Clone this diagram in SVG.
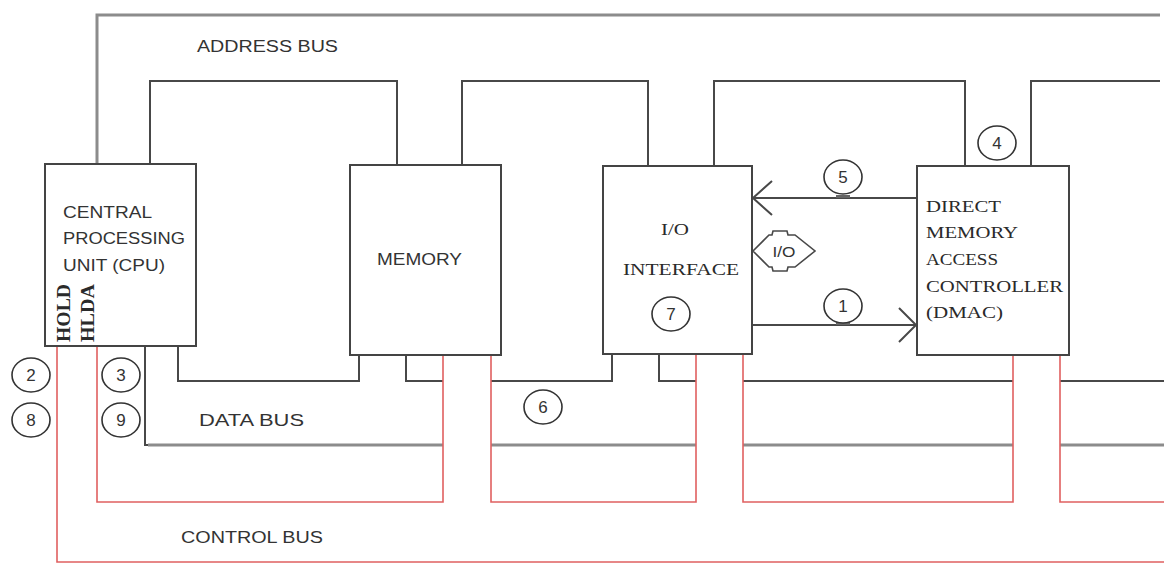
<svg xmlns="http://www.w3.org/2000/svg" width="1164" height="565" viewBox="0 0 1164 565">
<style>
.bg{fill:#ffffff}
.box{fill:#ffffff;stroke:#444;stroke-width:2}
.w{fill:none;stroke:#484848;stroke-width:2}
.g{fill:none;stroke:#8c8c8c;stroke-width:3}
.r{fill:none;stroke:#e06060;stroke-width:1.6}
.circ{fill:#ffffff;stroke:#333;stroke-width:1.6}
.sans{font-family:"Liberation Sans",Arial,sans-serif;fill:#333;font-size:16px}
.serif{font-family:"Liberation Serif","Times New Roman",serif;fill:#2a2a2a;font-size:17px}
.num{font-family:"Liberation Sans",Arial,sans-serif;fill:#333;font-size:17px;text-anchor:middle}
.tick{fill:#666}
</style>
<rect class="bg" x="0" y="0" width="1164" height="565"/>
<g id="connectors">
  <polyline class="g" points="97,163 97,15 1160,15"/>
  <polyline class="w" points="150,163 150,81 397,81 397,165"/>
  <polyline class="w" points="462,165 462,81 648,81 648,166"/>
  <polyline class="w" points="714,166 714,81 965,81 965,166"/>
  <polyline class="w" points="1031,166 1031,81 1160,81"/>
  <polyline class="w" points="178,346 178,381 359,381 359,355"/>
  <polyline class="w" points="406,355 406,381 443,381"/>
  <polyline class="w" points="491,381 612,381 612,354"/>
  <polyline class="w" points="659,354 659,381 696,381"/>
  <line class="w" x1="743" y1="381" x2="1013" y2="381"/>
  <line class="w" x1="1060" y1="381" x2="1164" y2="381"/>
  <polyline class="w" points="145,346 145,445 443,445"/>
  <line class="g" x1="148" y1="445" x2="443" y2="445"/>
  <line class="g" x1="491" y1="445" x2="696" y2="445"/>
  <line class="g" x1="743" y1="445" x2="1013" y2="445"/>
  <line class="g" x1="1060" y1="445" x2="1164" y2="445"/>
  <polyline class="r" points="57,346 57,562 1164,562"/>
  <polyline class="r" points="97,346 97,502 443,502 443,355"/>
  <polyline class="r" points="491,355 491,502 696,502 696,354"/>
  <polyline class="r" points="743,354 743,502 1013,502 1013,355"/>
  <polyline class="r" points="1060,355 1060,502 1164,502"/>
  <line class="w" x1="917" y1="198" x2="753" y2="198"/>
  <polyline class="w" points="772,181 753,198 772,215"/>
  <line class="w" x1="752" y1="325" x2="916" y2="325"/>
  <polyline class="w" points="899,308 916,325 899,342"/>
  <path class="w" d="M753,251 L769,235 L772,235 L773,231 L787,231 L788,235 L795,235 L815,251 L795,267 L788,267 L787,271 L773,271 L772,267 L769,267 Z" style="stroke-width:1.6"/>
  <text class="sans" x="784" y="257" text-anchor="middle" style="font-size:14px" textLength="23" lengthAdjust="spacingAndGlyphs">I/O</text>
</g>
<g id="cpu">
  <rect class="box" x="45" y="164" width="151" height="182"/>
  <text class="sans" x="63" y="218" textLength="89" lengthAdjust="spacingAndGlyphs">CENTRAL</text>
  <text class="sans" x="63" y="244" textLength="122" lengthAdjust="spacingAndGlyphs">PROCESSING</text>
  <text class="sans" x="63" y="271" textLength="102" lengthAdjust="spacingAndGlyphs">UNIT (CPU)</text>
  <text class="serif" transform="translate(70,342) rotate(-90)" style="font-weight:bold;font-size:19px" textLength="58" lengthAdjust="spacingAndGlyphs">HOLD</text>
  <text class="serif" transform="translate(94,342) rotate(-90)" style="font-weight:bold;font-size:19px" textLength="58" lengthAdjust="spacingAndGlyphs">HLDA</text>
</g>
<g id="memory">
  <rect class="box" x="350" y="165" width="151" height="190"/>
  <text class="sans" x="377" y="265" textLength="85" lengthAdjust="spacingAndGlyphs">MEMORY</text>
</g>
<g id="io-interface">
  <rect class="box" x="603" y="166" width="149" height="188"/>
  <text class="serif" x="661" y="235" textLength="28" lengthAdjust="spacingAndGlyphs">I/O</text>
  <text class="serif" x="623" y="275" textLength="116" lengthAdjust="spacingAndGlyphs">INTERFACE</text>
</g>
<g id="dmac">
  <rect class="box" x="917" y="166" width="152" height="189"/>
  <text class="serif" x="926" y="212" textLength="75" lengthAdjust="spacingAndGlyphs">DIRECT</text>
  <text class="serif" x="926" y="238" textLength="92" lengthAdjust="spacingAndGlyphs">MEMORY</text>
  <text class="serif" x="926" y="265" textLength="72" lengthAdjust="spacingAndGlyphs">ACCESS</text>
  <text class="serif" x="926" y="292" textLength="137" lengthAdjust="spacingAndGlyphs">CONTROLLER</text>
  <text class="serif" x="926" y="318" textLength="77" lengthAdjust="spacingAndGlyphs">(DMAC)</text>
</g>
<g id="bus-labels">
  <text class="sans" x="197" y="52" textLength="141" lengthAdjust="spacingAndGlyphs">ADDRESS BUS</text>
  <text class="sans" x="199" y="426" textLength="105" lengthAdjust="spacingAndGlyphs">DATA BUS</text>
  <text class="sans" x="181" y="543" textLength="142" lengthAdjust="spacingAndGlyphs">CONTROL BUS</text>
</g>
<g id="steps">
  <g id="step1"><rect class="tick" x="836" y="322" width="14" height="3"/><ellipse class="circ" cx="843" cy="306" rx="19" ry="17"/><text class="num" x="843" y="312">1</text></g>
  <g id="step2"><ellipse class="circ" cx="31" cy="375" rx="19" ry="17"/><text class="num" x="31" y="381">2</text></g>
  <g id="step3"><ellipse class="circ" cx="121" cy="375" rx="19" ry="17"/><text class="num" x="121" y="381">3</text></g>
  <g id="step4"><ellipse class="circ" cx="997" cy="143" rx="19" ry="17"/><text class="num" x="997" y="149">4</text></g>
  <g id="step5"><rect class="tick" x="836" y="195" width="14" height="3"/><ellipse class="circ" cx="843" cy="177" rx="19" ry="17"/><text class="num" x="843" y="183">5</text></g>
  <g id="step6"><ellipse class="circ" cx="543" cy="407" rx="19" ry="17"/><text class="num" x="543" y="413">6</text></g>
  <g id="step7"><ellipse class="circ" cx="671" cy="314" rx="19" ry="17"/><text class="num" x="671" y="320">7</text></g>
  <g id="step8"><ellipse class="circ" cx="31" cy="420" rx="19" ry="17"/><text class="num" x="31" y="426">8</text></g>
  <g id="step9"><ellipse class="circ" cx="121" cy="420" rx="19" ry="17"/><text class="num" x="121" y="426">9</text></g>
</g>
</svg>
